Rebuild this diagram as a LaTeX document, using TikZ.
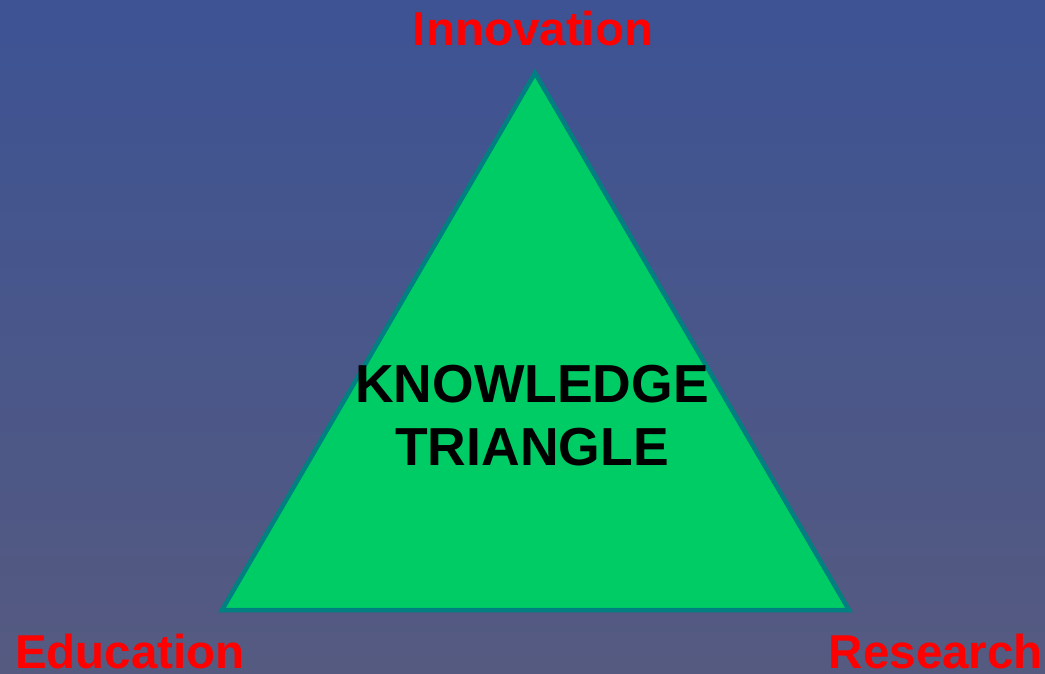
\documentclass[tikz,border=0pt]{standalone}
\usepackage{fontspec}
\setmainfont{Liberation Sans}
\definecolor{bgtop}{RGB}{61,83,148}
\definecolor{bgbot}{RGB}{85,90,128}
\definecolor{trifill}{RGB}{0,204,102}
\definecolor{triedge}{RGB}{0,128,128}
\definecolor{lbl}{RGB}{255,0,0}
\tikzset{
  corner/.style={font=\fontsize{47.5}{56}\selectfont\bfseries, text=lbl, inner sep=0pt},
  title/.style={font=\fontsize{53.5}{63}\selectfont\bfseries, text=black, align=center, inner sep=0pt},
}
\begin{document}
\begin{tikzpicture}[x=1pt,y=-1pt]
\shade[top color=bgtop, bottom color=bgbot] (0,0) rectangle (1045,673);
\useasboundingbox (0,0) rectangle (1045,673);
\coordinate (A) at (535,73);
\coordinate (B) at (222,610);
\coordinate (C) at (849,610);
\filldraw[fill=trifill, draw=triedge, line width=4.5pt, line join=miter] (A) -- (B) -- (C) -- cycle;
\node[corner, anchor=base] (inn) at (533,45) {Innovation};
\node[corner, anchor=base west] (edu) at (15,668) {Education};
\node[corner, anchor=base east] (res) at (1043,668) {Research};
\node[title, anchor=base] (kt) at (532,465) {KNOWLEDGE\\TRIANGLE};
\end{tikzpicture}
\end{document}
